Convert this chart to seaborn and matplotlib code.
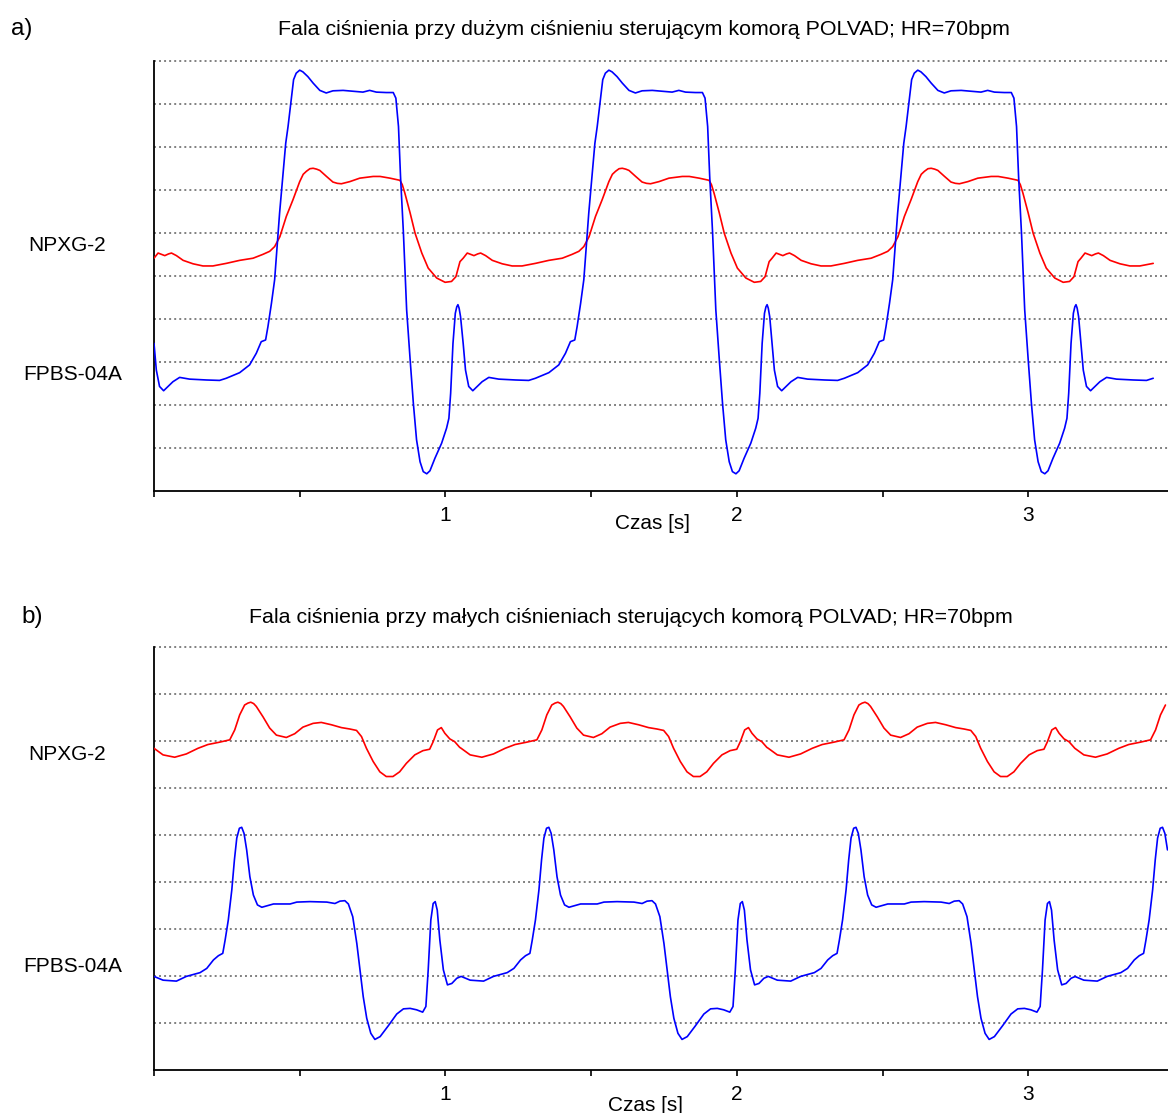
import numpy as np
import pandas as pd
import matplotlib
matplotlib.use("Agg")
import matplotlib.pyplot as plt
import seaborn as sns

# ---------------- data ----------------
# One beat of each trace (time inside the beat [s], value in grid units).
# Panel a) - high driving pressure
a_tau_blue = [0.000, 0.008, 0.019, 0.033, 0.048, 0.065, 0.088, 0.122, 0.180, 0.225,
              0.248, 0.294, 0.328, 0.351, 0.368, 0.383, 0.391, 0.403, 0.414, 0.420,
              0.431, 0.443, 0.452, 0.460, 0.471, 0.479, 0.488, 0.500, 0.511, 0.528,
              0.546, 0.569, 0.591, 0.614, 0.649, 0.683, 0.717, 0.740, 0.763, 0.797,
              0.821, 0.830, 0.839, 0.846, 0.856, 0.867, 0.879, 0.890, 0.901, 0.913,
              0.924, 0.936, 0.947, 0.964, 0.987, 1.004, 1.012, 1.018, 1.026, 1.034,
              1.039, 1.043, 1.047, 1.052]
a_val_blue = [3.43, 2.81, 2.43, 2.33, 2.43, 2.54, 2.64, 2.60, 2.58, 2.57,
              2.62, 2.75, 2.93, 3.20, 3.47, 3.51, 3.82, 4.36, 4.91, 5.45,
              6.46, 7.39, 8.08, 8.47, 9.09, 9.56, 9.71, 9.78, 9.74, 9.63,
              9.48, 9.31, 9.25, 9.30, 9.31, 9.29, 9.27, 9.31, 9.27, 9.26,
              9.26, 9.13, 8.47, 7.31, 5.99, 4.21, 3.05, 2.04, 1.19, 0.68,
              0.45, 0.40, 0.47, 0.76, 1.11, 1.46, 1.69, 2.27, 3.43, 4.13,
              4.28, 4.33, 4.25, 4.05]
a_tau_red = [0.000, 0.014, 0.025, 0.037, 0.050, 0.060, 0.077, 0.100, 0.134, 0.168,
             0.202, 0.248, 0.294, 0.340, 0.374, 0.397, 0.414, 0.432, 0.454, 0.477,
             0.500, 0.512, 0.523, 0.535, 0.546, 0.558, 0.569, 0.592, 0.614, 0.629,
             0.643, 0.672, 0.706, 0.752, 0.776, 0.810, 0.844, 0.852, 0.861, 0.879,
             0.896, 0.919, 0.941, 0.970, 0.999, 1.021, 1.036, 1.050]
a_val_red = [5.41, 5.53, 5.50, 5.47, 5.51, 5.53, 5.47, 5.36, 5.28, 5.23,
             5.23, 5.29, 5.36, 5.41, 5.50, 5.57, 5.68, 5.91, 6.38, 6.77,
             7.19, 7.36, 7.43, 7.49, 7.50, 7.48, 7.45, 7.31, 7.18, 7.15,
             7.14, 7.19, 7.27, 7.31, 7.31, 7.27, 7.22, 7.12, 6.92, 6.46,
             5.99, 5.53, 5.18, 4.95, 4.85, 4.87, 4.98, 5.33]
a_beat_onsets = [0.000, 1.061, 2.121, 3.181]
a_trace_end = 3.43

# Panel b) - low driving pressure
b_tau_blue = [0.000, 0.031, 0.077, 0.111, 0.158, 0.181, 0.204, 0.221, 0.236, 0.244,
              0.255, 0.267, 0.276, 0.284, 0.293, 0.301, 0.309, 0.318, 0.329, 0.341,
              0.355, 0.370, 0.387, 0.410, 0.467, 0.490, 0.535, 0.593, 0.621, 0.638,
              0.655, 0.667, 0.682, 0.696, 0.707, 0.718, 0.730, 0.744, 0.758, 0.776,
              0.804, 0.833, 0.856, 0.879, 0.901, 0.922, 0.933, 0.941, 0.950, 0.958,
              0.965, 0.972, 0.981, 0.993, 1.007, 1.022, 1.039, 1.050]
b_val_blue = [1.99, 1.91, 1.89, 1.99, 2.07, 2.16, 2.34, 2.43, 2.48, 2.76,
              3.19, 3.83, 4.47, 4.93, 5.14, 5.16, 5.03, 4.68, 4.11, 3.72,
              3.51, 3.46, 3.49, 3.53, 3.53, 3.57, 3.58, 3.57, 3.54, 3.59,
              3.60, 3.53, 3.26, 2.69, 2.13, 1.56, 1.10, 0.78, 0.65, 0.71,
              0.94, 1.19, 1.30, 1.31, 1.28, 1.23, 1.35, 2.13, 3.19, 3.54,
              3.58, 3.40, 2.76, 2.13, 1.81, 1.84, 1.95, 1.98]
b_tau_red = [0.000, 0.031, 0.071, 0.111, 0.151, 0.185, 0.225, 0.260, 0.277, 0.294,
             0.311, 0.322, 0.332, 0.342, 0.351, 0.374, 0.397, 0.420, 0.454, 0.483,
             0.511, 0.546, 0.574, 0.609, 0.643, 0.672, 0.695, 0.712, 0.729, 0.752,
             0.775, 0.797, 0.820, 0.843, 0.866, 0.895, 0.923, 0.946, 0.958, 0.973,
             0.986, 0.998, 1.015, 1.032, 1.049]
b_val_red = [6.84, 6.70, 6.65, 6.72, 6.84, 6.92, 6.97, 7.02, 7.23, 7.55,
             7.76, 7.80, 7.82, 7.79, 7.73, 7.51, 7.27, 7.12, 7.07, 7.15,
             7.29, 7.37, 7.39, 7.34, 7.28, 7.25, 7.22, 7.09, 6.84, 6.56,
             6.34, 6.24, 6.24, 6.34, 6.52, 6.70, 6.79, 6.82, 6.98, 7.23,
             7.28, 7.16, 7.04, 6.98, 6.86]
b_beat_onsets = [0.000, 1.054, 2.108, 3.160]
b_trace_end = 3.48

sensor_names = ["NPXG-2", "FPBS-04A"]
titles = ["Fala ciśnienia przy dużym ciśnieniu sterującym komorą POLVAD; HR=70bpm",
          "Fala ciśnienia przy małych ciśnieniach sterujących komorą POLVAD; HR=70bpm"]
panel_letters = ["a)", "b)"]
x_ticks = [0.0, 0.5, 1.0, 1.5, 2.0, 2.5, 3.0]
x_tick_labels = ["", "", "1", "", "2", "", "3"]
x_label = "Czas [s]"


def build_trace(onsets, tau, val, end):
    t = np.concatenate([o + np.asarray(tau) for o in onsets])
    v = np.concatenate([np.asarray(val) for _ in onsets])
    keep = t <= end
    return t[keep], v[keep]


def make_frame(onsets, tb, vb, tr, vr, end):
    t1, v1 = build_trace(onsets, tr, vr, end)
    t2, v2 = build_trace(onsets, tb, vb, end)
    return pd.DataFrame({
        "t": np.concatenate([t1, t2]),
        "v": np.concatenate([v1, v2]),
        "sensor": [sensor_names[0]] * len(t1) + [sensor_names[1]] * len(t2),
    })


df_a = make_frame(a_beat_onsets, a_tau_blue, a_val_blue, a_tau_red, a_val_red, a_trace_end)
df_b = make_frame(b_beat_onsets, b_tau_blue, b_val_blue, b_tau_red, b_val_red, b_trace_end)

# ---------------- figure ----------------
sns.set_theme(style="white")
plt.rcParams['font.family'] = ['Liberation Sans', 'DejaVu Sans']
plt.rcParams['text.color'] = 'black'
plt.rcParams['xtick.color'] = 'black'
plt.rcParams['xtick.labelcolor'] = 'black'

W, H = 1168, 1113
fig = plt.figure(figsize=(W / 100, H / 100), dpi=100)


def px_axes(left, top, right, bottom):
    return fig.add_axes([left / W, 1 - bottom / H, (right - left) / W, (bottom - top) / H])


def ftext(x, y, s, **kw):
    fig.text(x / W, 1 - y / H, s, color="black", **kw)


palette = {sensor_names[0]: "#ff0000", sensor_names[1]: "#0000ff"}

panels = [
    dict(df=df_a, rect=(154, 60.7, 1168, 491), ymax=10),
    dict(df=df_b, rect=(154, 646.7, 1168, 1070), ymax=9),
]

for p in panels:
    ax = px_axes(*p["rect"])
    ax.set_xlim(0, (1168 - 154) / 291.4)
    ax.set_ylim(0, p["ymax"])
    for yv in range(1, p["ymax"] + 1):
        ax.axhline(yv, color="#808080", lw=1.4, ls=(0, (1, 1.6)), zorder=1, clip_on=False)
    sns.lineplot(data=p["df"], x="t", y="v", hue="sensor", palette=palette,
                 sort=False, estimator=None, lw=1.2, legend=False, ax=ax, zorder=3,
                 solid_joinstyle="round", solid_capstyle="round")
    ax.set_xlabel("")
    ax.set_ylabel("")
    ax.set_yticks([])
    ax.set_xticks(x_ticks)
    ax.set_xticklabels(x_tick_labels, fontsize=15, color="black")
    ax.tick_params(axis="x", direction="out", length=4.5, width=1.2, color="black",
                   pad=6, bottom=True)
    for s in ["top", "right"]:
        ax.spines[s].set_visible(False)
    for s in ["left", "bottom"]:
        ax.spines[s].set_color("black")
        ax.spines[s].set_linewidth(1.3)
    ax.grid(False)
    ax.set_facecolor("white")

# texts
ftext(11, 35, panel_letters[0], fontsize=17.5, ha="left", va="baseline")
ftext(278, 35, titles[0], fontsize=15.4, ha="left", va="baseline")
ftext(28, 251, sensor_names[0], fontsize=15, ha="left", va="baseline")
ftext(23, 379.5, sensor_names[1], fontsize=15, ha="left", va="baseline")
ftext(615, 529, x_label, fontsize=15, ha="left", va="baseline")

ftext(21, 623, panel_letters[1], fontsize=17.5, ha="left", va="baseline")
ftext(249, 623, titles[1], fontsize=15.4, ha="left", va="baseline")
ftext(28, 760.5, sensor_names[0], fontsize=15, ha="left", va="baseline")
ftext(23, 972.5, sensor_names[1], fontsize=15, ha="left", va="baseline")
ftext(608, 1111, x_label, fontsize=15, ha="left", va="baseline")

fig.savefig("out.png", dpi=100, facecolor="white")
